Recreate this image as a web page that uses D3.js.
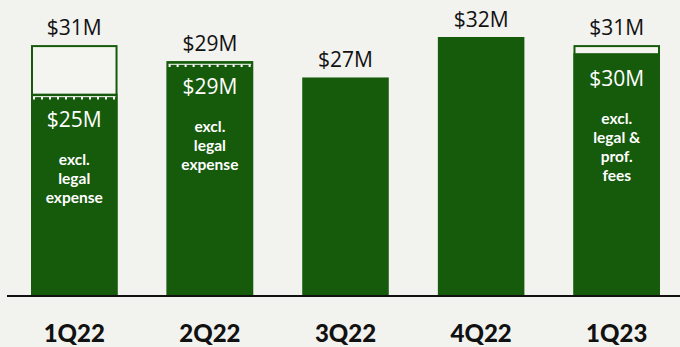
<!DOCTYPE html>
<html>
<head>
<meta charset="utf-8">
<script src="https://cdn.jsdelivr.net/npm/d3@7"></script>
<style>
  html, body { margin: 0; padding: 0; background: #f2f2ee; }
  svg { display: block; }
</style>
</head>
<body>
<svg id="chart" width="680" height="347"></svg>
<script>
// Quarterly totals and adjusted ("excl.") values, $M
const quarters = ["1Q22", "2Q22", "3Q22", "4Q22", "1Q23"];
const totals   = [31, 29, 27, 32, 31];
const adjusted = [25, 29, null, null, 30];
const notes    = [
  ["excl.", "legal", "expense"],
  ["excl.", "legal", "expense"],
  [],
  [],
  ["excl.", "legal &", "prof.", "fees"]
];
// dashed divider marks the adjusted level where the legal expense was removed
const dashed   = [true, true, false, false, false];

const green = "#165a0b";
const paper = "#f4f4f0";

const svg = d3.select("#chart");
const W = 680, baseY = 296;

const x = d3.scaleBand().domain(quarters).range([31, 660]).paddingInner(0.362).paddingOuter(0);
const y = d3.scaleLinear().domain([0, 32]).range([baseY, 37]);

const rows = quarters.map((q, i) => ({
  q, total: totals[i], adj: adjusted[i], note: notes[i], dash: dashed[i]
}));

const g = svg.append("g");

rows.forEach(d => {
  const x0 = x(d.q), bw = x.bandwidth(), cx = x0 + bw / 2;
  const grp = g.append("g");
  if (d.adj === null) {
    grp.append("rect").attr("x", x0).attr("y", y(d.total))
      .attr("width", bw).attr("height", baseY - y(d.total)).attr("fill", green);
  } else {
    // outline for the full amount, solid fill for the adjusted amount
    grp.append("rect").attr("x", x0 + 1).attr("y", y(d.total) + 1)
      .attr("width", bw - 2).attr("height", baseY - y(d.total) - 1)
      .attr("fill", paper).attr("stroke", green).attr("stroke-width", 2);
    const ya = Math.max(y(d.adj), y(d.total));
    grp.append("rect").attr("x", x0).attr("y", ya)
      .attr("width", bw).attr("height", baseY - ya).attr("fill", green);
    if (d.dash) {
      grp.append("line").attr("x1", x0 + 2).attr("x2", x0 + bw - 2)
        .attr("y1", ya + 3).attr("y2", ya + 3)
        .attr("stroke", "#ffffff").attr("stroke-width", 1);
      grp.append("line").attr("x1", x0 + 2).attr("x2", x0 + bw - 2)
        .attr("y1", ya + 4.5).attr("y2", ya + 4.5)
        .attr("stroke", "#ffffff").attr("stroke-width", 2.5)
        .attr("stroke-dasharray", "2,6");
    }
    // adjusted value inside the bar
    const vb = ya + 33;
    grp.append("text").attr("x", cx).attr("y", vb)
      .attr("text-anchor", "middle").attr("fill", "#ffffff")
      .attr("font-family", "'Open Sans', sans-serif").attr("font-size", 21)
      .text(`$${d.adj}M`);
    d.note.forEach((t, k) => {
      grp.append("text").attr("x", cx).attr("y", vb + 38 + k * 19)
        .attr("text-anchor", "middle").attr("fill", "#ffffff")
        .attr("font-family", "Lato, sans-serif").attr("font-weight", 700)
        .attr("font-size", 15.5).text(t);
    });
  }
  // total value above the bar
  grp.append("text").attr("x", cx).attr("y", y(d.total) - 10)
    .attr("text-anchor", "middle").attr("fill", "#111111")
    .attr("font-family", "'Open Sans', sans-serif").attr("font-size", 21)
    .text(`$${d.total}M`);
});

// baseline and category axis
svg.append("line").attr("x1", 7).attr("x2", W).attr("y1", baseY).attr("y2", baseY)
  .attr("stroke", "#111111").attr("stroke-width", 2);

const axis = svg.append("g").attr("transform", `translate(0,${baseY})`)
  .call(d3.axisBottom(x).tickSize(0).tickPadding(0));
axis.select(".domain").remove();
axis.selectAll("text")
  .attr("y", 46).attr("dy", 0)
  .attr("fill", "#111111")
  .attr("font-family", "Lato, sans-serif").attr("font-weight", 900)
  .attr("font-size", 24);
</script>
</body>
</html>
